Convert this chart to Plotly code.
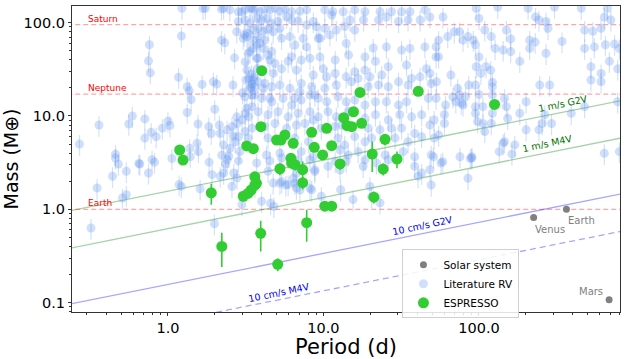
import numpy as np
import plotly.graph_objects as go

# ESPRESSO planets: period (d), mass (M_earth), mass error
espresso_period = [4.01, 1.19, 1.25, 3.96, 3.21, 3.54, 5.0, 5.33, 5.65, 6.39, 6.18, 8.4, 8.73,
                   10.5, 11.3, 9.88, 13.5, 15.6, 14.2, 15.2, 17.6, 17.2, 24.9, 20.6, 29.7, 40.7,
                   126, 1.90, 2.22, 3.05, 3.27, 3.43, 3.62, 3.71, 3.62, 3.95, 5.08, 7.35, 7.8,
                   10.2, 11.3, 21.1, 5.25, 6.24, 6.56, 7.35, 12.8, 24.2]
espresso_mass = [30.6, 4.32, 3.37, 7.68, 4.77, 4.46, 5.53, 5.53, 6.26, 5.10, 3.52, 6.69, 4.62,
                 7.38, 4.81, 3.82, 9.59, 11.1, 7.87, 7.68, 8.35, 17.9, 5.62, 3.91, 3.46, 18.4,
                 13.3, 1.50, 0.40, 1.38, 1.48, 1.61, 1.82, 1.90, 2.23, 0.553, 0.257, 1.93, 0.719,
                 1.08, 1.08, 1.35, 2.72, 3.13, 3.01, 2.66, 3.06, 2.70]
espresso_err = [2.5, 0.3, 0.3, 0.6, 0.4, 0.4, 0.4, 0.4, 0.5, 0.5, 0.5, 0.5, 0.5,
                0.6, 0.5, 0.4, 0.8, 0.9, 0.7, 0.7, 0.8, 1.5, 0.8, 1.4, 0.7, 1.5,
                1.5, 0.38, 0.16, 0.15, 0.15, 0.15, 0.2, 0.2, 0.3, 0.2, 0.04, 0.3, 0.27,
                0.1, 0.1, 0.2, 0.4, 0.4, 0.4, 0.6, 0.4, 0.4]

# literature RV planets (period d, mass M_earth)
lit_period = [
    1.23, 1.74, 2.28, 2.84, 3.14, 3.47, 2.84, 3.14, 2.77, 3.1, 3.22, 1.22, 0.76, 2.32, 2.68, 3.14,
    0.75, 0.77, 1.17, 1.33, 1.37, 1.66, 1.96, 2.06, 2.62, 3.3, 3.55, 3.47, 1.41, 1.33, 2.0, 0.59,
    0.36, 0.56, 0.71, 1.0, 0.92, 0.78, 0.71, 0.27, 0.46, 0.84, 1.03, 1.56, 1.83, 1.9, 2.17, 2.4,
    2.58, 2.78, 3.0, 3.14, 3.3, 2.28, 2.51, 2.71, 2.84, 3.14, 3.47, 1.57, 1.39, 1.06, 0.79, 2.22,
    2.46, 3.47, 3.22, 3.47, 3.22, 3.38, 0.65, 1.54, 1.84, 1.38, 2.14, 2.63, 2.77, 2.9, 3.28, 3.02,
    3.4, 3.8, 3.17, 3.75, 3.72, 3.28, 3.72, 2.21,
    0.48, 0.46, 0.66, 0.82, 2.34, 2.4, 2.84, 0.44, 0.54, 0.75, 0.35, 0.51, 0.54, 1.18, 1.22, 1.61,
    1.92, 2.17, 2.28, 2.65, 2.78, 2.58, 2.99, 1.99, 0.32, 4.57, 4.8, 5.25, 5.38, 5.73, 6.4, 7.06,
    8.19, 8.8, 6.7,
    1.68, 2.21, 2.5, 2.98, 3.37, 3.62, 3.9, 4.2, 4.53, 4.88, 5.25, 5.65, 6.25, 7.06, 7.8,
    3.37, 3.72, 4.0, 4.3, 4.65, 5.1, 5.8, 6.25, 6.87, 7.8, 8.6, 3.28, 3.53, 3.8, 4.1, 4.4, 4.75,
    5.25, 3.05, 3.53, 3.8, 3.9, 4.2, 5.38, 6.09, 6.55, 7.4, 7.8, 9.25, 3.37, 3.53, 4.1, 4.4, 4.65,
    3.8, 4.53, 4.88, 5.38, 5.93, 6.25, 7.2, 6.7, 8.6, 3.45, 3.53, 3.62, 4.2, 4.75, 4.1, 4.65, 5.25,
    6.09, 7.06, 8.19, 9.25, 3.62, 3.12, 4.53, 5.5, 6.55,
    10.2, 11.5, 13.4, 15.9, 18.5, 23.1, 27.4, 31.8, 36, 44.9, 11.3, 14.8, 18.1, 22.6, 25.4, 30.4,
    35, 41.8, 48.4, 9.0, 10.2, 12.1, 13.7, 15.9, 9.5, 11, 14, 20.9, 25.4, 31.8, 36, 44.9, 53,
    8.19, 9.5, 11.9, 14.5, 18.5, 21.6, 26.1, 34.2, 45.8, 53, 9.97, 10.5, 11.9, 14, 15.9, 18.5,
    19.9, 23.7, 30.4, 36.9, 41.8, 48.4, 53.3, 7.2, 8.4, 10.2, 12.1, 15.1, 16.7, 19.4, 22.6, 26.1,
    35, 49.3, 4.0, 4.65, 6.25, 7.2, 8.8, 10.5, 12.4, 14, 15.9, 18.5, 21.6, 25.4, 30.4, 34.2, 47.2,
    3.8, 4.4, 5.1, 5.93, 6.87, 8.19, 9.25, 10.7, 12.1, 14.4, 18.5, 21.6, 26.1, 31, 36.9, 42.8, 51.5,
    4.2, 4.88, 5.8, 6.7, 7.6, 8.6, 9.7, 11.9, 13.1, 19.4, 23.1, 27.4, 31.8, 38.6, 48.4,
    4.4, 6.55, 8.0, 12.4, 13.7, 15.9, 18.5, 20.4, 28.9, 35, 42.8, 51.5,
    4.3, 5.25, 7.2, 8.6, 12.8, 14.4, 16.7, 24.9, 32.6, 38.6, 49.3,
    96, 132, 207, 306, 455, 670, 58.7, 100, 231, 243, 270, 640, 705, 69.5, 75, 109, 150, 278, 478,
    540, 610, 63, 55, 79, 85, 92, 120, 160, 212, 230, 342, 95, 127, 143, 160, 212, 270, 478, 552,
    650, 745, 800, 55, 100, 183, 690, 780, 96, 111, 119, 103, 525, 66, 610, 525, 610, 246, 285, 122,
    122, 73, 86, 95, 75, 68, 82, 100, 122, 146, 201, 53, 780, 61, 71, 77, 79, 95, 106, 150, 60, 95,
    122, 153, 183, 265, 392, 478, 60, 98, 106, 120, 109, 201, 255, 55, 146, 170, 135, 90, 640, 800,
    243, 143, 163, 293,
    4.53, 5.38, 6.87, 8.19, 8.8, 10.7, 11.9, 14, 18, 18.5, 21.9, 26.1, 38.6, 42.8, 40.6, 48.4,
    4.75, 5.93, 6.7, 8.4, 9.7, 12.9, 15.5, 19.9, 23.1, 6.55, 4.0, 3.62, 4.4, 3.72, 12.8, 20.4, 85,
    49.3, 57, 90, 75.5, 88, 51, 58.5]
lit_mass = [
    143, 143, 143, 131, 137, 143, 103, 107, 80, 74, 71, 72, 58, 61, 42, 38,
    39, 29, 26, 20.6, 18.6, 21.8, 23.3, 22, 21.5, 25, 26, 22, 15, 10.9, 11.8, 10,
    8.0, 8.2, 9.3, 8.8, 7.4, 6.7, 5.8, 5.0, 3.9, 6.0, 7.9, 8.2, 7.7, 6.5, 6.5, 7.1,
    7.7, 8.3, 9.1, 10.7, 9.8, 4.9, 4.5, 5.3, 6.0, 6.8, 7.4, 4.15, 3.66, 3.5, 3.4, 3.8,
    3.7, 16.8, 12.1, 12.6, 31, 19.8, 3.1, 5.1, 3.2, 4.5, 8.0, 6.1, 9.8, 4.15, 5.8, 17.7,
    20.3, 23.3, 24.3, 32, 41.5, 47, 57.6, 65,
    3.05, 3.55, 3.05, 3.2, 3.05, 3.4, 3.3, 2.26, 2.55, 2.45, 1.69, 1.32, 1.43, 1.84, 1.76, 1.66,
    2.35, 2.26, 2.45, 2.45, 2.16, 1.76, 1.12, 0.70, 0.63, 1.16, 1.07, 1.9, 1.98, 1.82, 2.15, 1.61,
    1.68, 2.53, 2.43,
    142, 140, 137, 131, 143, 137, 131, 140, 137, 143, 133, 140, 131, 133, 137,
    98, 111, 107, 111, 98, 103, 115, 107, 104, 94.5, 103, 77, 83.5, 87, 81, 85, 80,
    87, 68, 65, 71, 60, 65, 68, 71, 57.6, 68, 55, 68, 49, 53, 53, 45, 49,
    41.5, 39.8, 36.5, 32, 38.5, 43, 39.8, 31, 27.5, 28, 24.3, 20.6, 22.3, 28.6, 19.8, 20.6, 21.5,
    19.8, 18.2, 16.8, 15.5, 16.8, 16.1, 15.5, 15.5, 15.5,
    137, 131, 131, 137, 131, 131, 131, 131, 131, 137, 121, 107, 107, 107, 115, 103,
    107, 107, 115, 91, 87, 83.5, 91, 83.5, 68, 74, 60, 53.5, 55, 50.9, 53, 55, 55,
    41.5, 43, 39.8, 45, 43, 38.5, 33.7, 35.2, 32, 43, 32, 26.3, 28.6, 26.3, 29.8, 31,
    26.3, 27.5, 23.3, 25.3, 26.3, 28.6, 23.3, 22.3, 20.6, 19.8, 21.5, 23.3, 25.3, 20.6, 21.5, 20.6,
    21.5, 22.3, 15.5, 14.2, 13.1, 14.8, 16.8, 14.2, 16.1, 14.2, 14.8, 13.1, 14.2, 14.2, 13.1, 14.2, 15.5,
    11.1, 10.3, 11.1, 9.8, 10.7, 11.1, 9.8, 11.1, 9.8, 11.1, 9.45, 10.3, 9.06, 10.3, 9.8, 10.3, 9.06,
    7.7, 8.3, 7.4, 8.0, 8.3, 9.06, 7.4, 7.7, 8.0, 7.4, 7.1, 7.4, 7.4, 6.5, 8.0,
    5.8, 5.8, 5.3, 5.8, 4.9, 6.0, 5.3, 5.8, 5.8, 5.3, 6.0, 5.8,
    3.82, 4.0, 4.15, 3.66, 4.32, 3.82, 4.15, 3.82, 4.15, 3.66, 3.82,
    143, 147, 143, 147, 143, 143, 115, 111, 115, 107, 103, 115, 107, 80, 80, 83.5, 83.5, 87, 83.5,
    81, 87, 71, 65, 65, 71, 65, 71, 67, 65, 62, 63, 58, 53, 51, 49, 53, 47, 53, 55,
    58, 59, 53, 43, 43, 38.5, 38.5, 32, 33.7, 33.7, 31, 28.6, 33.7, 27.5, 28.6, 24.3, 23.3, 21.5, 21.5, 22.9,
    20.6, 19.8, 21.5, 21.5, 16.8, 16.1, 16.1, 17.0, 16.8, 15.5, 14.2, 15.5, 14.2, 13.1, 14.2, 13.7, 13.1, 12.6, 12.6, 12.6, 10.3, 10.7,
    10.7, 9.45, 10.7, 10.3, 10.7, 12.6, 8.3, 8.7, 8.3, 8.3, 6.8, 7.1, 8.3, 6.26, 5.3, 4.9, 4.15, 3.66, 3.98, 4.15,
    7.1, 5.1, 3.9, 8.3,
    3.3, 3.55, 3.4, 3.4, 2.66, 2.89, 3.27, 3.27, 2.89, 3.4, 3.13, 3.4, 2.89, 2.45, 2.26, 2.66,
    1.91, 1.84, 1.69, 1.62, 1.38, 1.62, 1.27, 1.76, 1.17, 1.91, 1.22, 1.76, 2.55, 3.13, 2.64, 1.36, 2.15,
    1.82, 3.13, 3.55, 3.66, 3.5, 3.66, 3.24]

# solar system
solar_names = ["Venus", "Earth", "Mars"]
solar_period = [224.7, 365.25, 687.0]
solar_mass = [0.815, 1.0, 0.107]

# reference masses for the dashed lines
ref_names = ["Saturn", "Neptune", "Earth"]
ref_mass = [95.16, 17.15, 1.0]

# RV semi-amplitude curves
rv_labels = ["1 m/s G2V", "1 m/s M4V", "10 cm/s G2V", "10 cm/s M4V"]
rv_k = [1.0, 1.0, 0.1, 0.1]          # m/s
rv_mstar = [1.0, 0.25, 1.0, 0.25]    # M_sun
line_period = [0.2, 1000.0]


def rv_mass(k, mstar, period):
    # Earth around the Sun at 1 yr gives 0.0895 m/s
    return k / 0.0895 * (np.asarray(period) / 365.25) ** (1 / 3) * mstar ** (2 / 3)


FONT = "DejaVu Sans"
fig = go.Figure()

# reference mass lines
for name, m in zip(ref_names, ref_mass):
    fig.add_trace(go.Scatter(
        x=line_period, y=[m, m], mode="lines", showlegend=False, hoverinfo="skip",
        line=dict(color="rgba(255,0,0,0.35)", width=1.2, dash="5px,3px")
    ))
    fig.add_annotation(
        x=np.log10(0.295), y=np.log10(m), text=name, showarrow=False,
        xanchor="left", yanchor="bottom", yshift=-1,
        font=dict(family=FONT, size=9, color="red")
    )

# RV detection limit lines
rv_colors = ["rgba(0,128,0,0.35)", "rgba(0,128,0,0.35)", "rgba(0,0,255,0.35)", "rgba(0,0,255,0.35)"]
rv_dash = ["solid", "solid", "solid", "6px,4px"]
rv_text_colors = ["#007000", "#007000", "#0000ee", "#0000ee"]
rv_label_period = [347, 274, 43.3, 5.17]
rv_label_shift = [9, 9, 8, 7]
for lab, k, ms, c, d, tc, lp, ys in zip(rv_labels, rv_k, rv_mstar, rv_colors, rv_dash,
                                      rv_text_colors, rv_label_period, rv_label_shift):
    fig.add_trace(go.Scatter(
        x=line_period, y=rv_mass(k, ms, line_period), mode="lines",
        showlegend=False, hoverinfo="skip", line=dict(color=c, width=1.3, dash=d)
    ))
    fig.add_annotation(
        x=np.log10(lp), y=np.log10(float(rv_mass(k, ms, lp))), text=lab, showarrow=False,
        textangle=-12, yshift=ys, font=dict(family=FONT, size=9.5, color=tc)
    )

# literature RV
fig.add_trace(go.Scatter(
    x=lit_period, y=lit_mass, mode="markers", name="Literature RV", legendrank=2,
    marker=dict(size=9, color="rgba(100,149,237,0.3)", line=dict(width=0)),
    error_y=dict(type="percent", value=25, color="rgba(100,149,237,0.28)", thickness=1.2, width=0)
))

# ESPRESSO
fig.add_trace(go.Scatter(
    x=espresso_period, y=espresso_mass, mode="markers", name="ESPRESSO", legendrank=3,
    marker=dict(size=11, color="#32cd32", line=dict(width=0)),
    error_y=dict(type="data", array=espresso_err, color="#32cd32", thickness=1.6, width=0)
))

# solar system
fig.add_trace(go.Scatter(
    x=solar_period, y=solar_mass, mode="markers", name="Solar system", legendrank=1,
    marker=dict(size=7, color="gray", line=dict(width=0))
))
solar_anchor = [("left", "top", -1, -4), ("left", "top", 0, -4), ("right", "bottom", -4, 1)]
for n, p, m, (xa, ya, xs, ys) in zip(solar_names, solar_period, solar_mass, solar_anchor):
    fig.add_annotation(
        x=np.log10(p), y=np.log10(m), text=n, showarrow=False, xanchor=xa, yanchor=ya,
        xshift=xs, yshift=ys, font=dict(family=FONT, size=10, color="gray")
    )

x_minor = [v * 10 ** e for e in range(-1, 3) for v in range(2, 10)]
y_minor = [v * 10 ** e for e in range(-2, 3) for v in range(2, 10)]

axis_common = dict(
    type="log", showgrid=False, zeroline=False, showline=True, linecolor="#333",
    linewidth=1, mirror=True, ticks="outside", ticklen=3, tickcolor="#333",
    tickfont=dict(family=FONT, size=14.5, color="black"), automargin=False,
)
fig.update_xaxes(
    **axis_common, range=[-0.617, 2.907],
    tickvals=[1, 10, 100], ticktext=["1.0", "10.0", "100.0"],
    minor=dict(tickvals=x_minor, ticks="outside", ticklen=2, tickcolor="#333"),
    title=dict(text="Period (d)", font=dict(family=FONT, size=21, color="black"), standoff=3)
)
fig.update_yaxes(
    **axis_common, range=[-1.101, 2.179],
    tickvals=[0.1, 1, 10, 100], ticktext=["0.1", "1.0", "10.0", "100.0"],
    minor=dict(tickvals=y_minor, ticks="outside", ticklen=2, tickcolor="#333"),
    title=dict(text="Mass (M⊕)", font=dict(family=FONT, size=19, color="black"), standoff=1)
)

fig.update_layout(
    width=627, height=359,
    margin=dict(l=72, r=7, t=6, b=47),
    plot_bgcolor="white", paper_bgcolor="white",
    font=dict(family=FONT),
    legend=dict(
        x=0.603, y=0.205, xanchor="left", yanchor="top",
        bgcolor="rgba(255,255,255,0.85)", bordercolor="#d0d0d0", borderwidth=1,
        font=dict(family=FONT, size=10.5, color="black"), tracegroupgap=0,
        itemwidth=30
    )
)

# drop the default page margin so the figure sits at the window's corner
fig.write_html("out.html", config={"displayModeBar": False},
               post_script="document.body.style.margin = '0px';")
